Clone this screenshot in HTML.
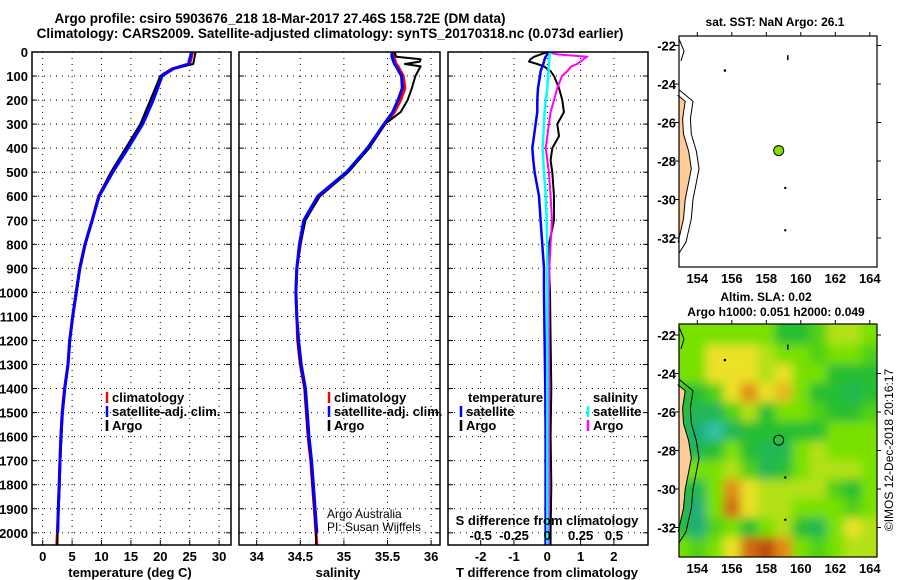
<!DOCTYPE html>
<html><head><meta charset="utf-8"><style>
html,body{margin:0;padding:0;background:#fff;width:900px;height:580px;overflow:hidden}
svg{display:block;font-family:"Liberation Sans",Arial,sans-serif}
.b{font-weight:bold}
</style></head><body>
<svg id="c" width="900" height="580" viewBox="0 0 900 580" xmlns="http://www.w3.org/2000/svg">
<defs>
<filter id="blur" x="-10%" y="-10%" width="120%" height="120%"><feGaussianBlur stdDeviation="5"/></filter>
<clipPath id="m2clip"><rect x="679" y="324" width="198" height="233"/></clipPath>
</defs>
<text x="280" y="23" text-anchor="middle" class="b" font-size="13.5">Argo profile: csiro 5903676_218 18-Mar-2017 27.46S 158.72E (DM data)</text>
<text x="330" y="38" text-anchor="middle" class="b" font-size="13.5">Climatology: CARS2009. Satellite-adjusted climatology: synTS_20170318.nc (0.073d earlier)</text>
<g id="root"></g>
</svg>
<script>
// ---------- data ----------
const depthTicks=[0,100,200,300,400,500,600,700,800,900,1000,1100,1200,1300,1400,1500,1600,1700,1800,1900,2000];
const tempTicks=[0,5,10,15,20,25,30];
const salTicks=[34,34.5,35,35.5,36];
const salTickLabels=["34","34.5","35","35.5","36"];
const tdiffTicks=[-2,-1,0,1,2];
const sdiffTicks=[-0.5,-0.25,0,0.25,0.5];
const sdiffTickLabels=["-0.5","-0.25","0","0.25","0.5"];

const tDepth=[0,50,70,90,100,200,300,400,500,600,700,800,900,1000,1100,1200,1300,1400,1500,1600,1700,1800,1900,2000,2050];
const tempClim=[25.5,25,22,20.7,20.2,18.5,16.8,14.3,11.7,9.5,8.4,7.2,6.3,5.7,5.1,4.6,4.3,3.7,3.3,3.1,2.95,2.8,2.65,2.5,2.4];
const tempSat=[25.3,24.8,22.2,20.9,20.3,18.8,17.0,14.5,11.9,9.6,8.4,7.2,6.3,5.7,5.1,4.6,4.3,3.75,3.35,3.1,2.95,2.8,2.65,2.55,2.55];
const tempArgo=[26,25.6,22.3,20.6,20.0,18.3,16.6,14.1,11.6,9.5,8.5,7.3,6.4,5.8,5.15,4.65,4.3,3.8,3.4,3.2,3.0,2.9,2.7,2.5,2.5];

const sDepth=[0,20,30,40,50,60,80,100,150,200,250,300,400,500,600,700,800,900,1000,1100,1200,1300,1400,1500,1600,1700,1800,1900,2000,2050];
const salClim=[35.56,35.57,35.58,35.59,35.6,35.62,35.65,35.68,35.7,35.65,35.58,35.47,35.28,35.04,34.72,34.55,34.5,34.46,34.45,34.46,34.47,34.5,34.55,34.57,34.59,34.62,34.64,34.66,34.68,34.69];
const salSat=[35.55,35.55,35.56,35.57,35.58,35.6,35.63,35.66,35.67,35.62,35.56,35.46,35.27,35.03,34.7,34.54,34.49,34.46,34.45,34.46,34.48,34.51,34.56,34.58,34.6,34.63,34.65,34.67,34.69,34.69];
const salArgo=[35.58,35.6,35.88,35.87,35.7,35.88,35.85,35.82,35.78,35.73,35.65,35.47,35.29,35.05,34.72,34.56,34.5,34.46,34.45,34.46,34.47,34.5,34.55,34.57,34.59,34.62,34.64,34.66,34.68,34.68];

const dDepth=[0,10,20,30,40,50,60,80,100,150,200,250,300,350,400,450,500,600,700,800,900,1000,1200,1400,1600,1800,2000,2050];
const tDiffArgo=[0,-0.2,-0.4,-0.5,-0.55,-0.3,-0.1,0.1,0.2,0.35,0.45,0.5,0.3,0.35,0.15,0.1,0.15,0.2,0.2,0.05,0.05,0.08,0.1,0.12,0.1,0.12,0.1,0.1];
const tDiffSat=[0,0,-0.05,-0.08,-0.1,-0.12,-0.15,-0.2,-0.22,-0.28,-0.3,-0.3,-0.35,-0.4,-0.45,-0.42,-0.38,-0.25,-0.2,-0.15,-0.1,-0.1,-0.08,-0.06,-0.05,-0.05,-0.05,-0.05];
const sDiffArgo=[0,0.075,0.3,0.27,0.25,0.225,0.18,0.15,0.11,0.075,0.05,0.025,0.012,0.0,-0.012,0.0,0.012,0.025,0.035,0.025,0.015,0.012,0.012,0.012,0.012,0.012,0.012,0.012];
const sDiffSat=[0.025,0.02,0.015,0.015,0.012,0.012,0.01,0.01,0.005,0,-0.012,-0.02,-0.025,-0.03,-0.035,-0.03,-0.025,-0.012,-0.005,0,0,0,0,0,0,0,0,0];

const lonTicks=[154,156,158,160,162,164];
const latTicks=[-22,-24,-26,-28,-30,-32];
const argoLon=158.72, argoLat=-27.46;
const slaGrid=[
[3,3,3,3,3,3,2,2,2.5,3.5,3.5,3],
[3,3,4,4,4,3.5,3,3,2.5,3,3,2.5],
[3,3,4,4,4,3.5,4,3,3,2,2,2],
[2,2,2.5,4,5,4,4.5,3,2,2,1.5,2],
[2,1.5,1.5,2.5,3.5,2,3,3,2.5,2,2,2.5],
[2,1,0.5,1.5,2,2,2,2,2,3,3,3],
[2,1.5,2,3,2,1.5,1.5,3,3.5,3,3,3],
[3,3,3,3.5,2.5,1.5,2,3,3.5,3.5,3.5,3],
[2,1.5,3,5,4,3.5,3.5,3.5,3.5,2.5,2,3],
[2,1,3,5.5,4,3.5,3.5,3,3,3,2.5,3],
[2,1,2.5,3,2,3,3.5,2,1.5,3,4,3.5],
[3,2.5,3,4,5.5,6,5,3,2.5,3,3.5,3.5]];
const coastLon=[152.9,153.3,153.15,153.2,153.5,153.65,153.5,153.3,153.2,153.0,152.9];
const coastLat=[-24.6,-24.9,-25.8,-26.6,-27.5,-28.4,-29.1,-30.0,-31.0,-31.8,-32.2];

// ---------- helpers ----------
const NS="http://www.w3.org/2000/svg";
const root=document.getElementById('root');
function el(tag,attrs,parent){const e=document.createElementNS(NS,tag);for(const k in attrs)e.setAttribute(k,attrs[k]);(parent||root).appendChild(e);return e;}
function txt(x,y,s,size,anchor,bold,parent){const t=el('text',{x:x,y:y,'font-size':size,'text-anchor':anchor||'middle'},parent);if(bold)t.setAttribute('font-weight','bold');t.textContent=s;return t;}

const PT=52,PB=545;
const yD=d=>52+d*0.2404;
const xT=v=>42.7+v*5.88;
const xS=v=>256.7+(v-34)*87.2;
const xTd=v=>547.3+v*33.3;
const xSd=v=>547.3+v*133.2;

function panel(name){
  const g=el('g',{});
  
  
  return g;
}
function frame(g,x0,x1){
  const r=el('rect',{x:x0,y:PT,width:x1-x0,height:PB-PT,fill:'none',stroke:'#000','stroke-width':1.5},g);
  
  
}
function hgrid(g,x0,x1,labels){
  depthTicks.forEach(d=>{
    const y=yD(d);
    el('line',{x1:x0,x2:x1,y1:y,y2:y,stroke:'#000','stroke-width':1,'stroke-dasharray':'1,5'},g);
    el('line',{x1:x0,x2:x0+5,y1:y,y2:y,stroke:'#000'},g);
    el('line',{x1:x1-5,x2:x1,y1:y,y2:y,stroke:'#000'},g);
    if(labels){const t=txt(28,y+5,String(d),13,'end',true,g);
      
      }
  });
}
function vgrid(g,ticks,fx,labels){
  ticks.forEach((v,i)=>{
    const x=fx(v);
    el('line',{x1:x,x2:x,y1:PT,y2:PB,stroke:'#000','stroke-width':1,'stroke-dasharray':'1,5'},g);
    el('line',{x1:x,x2:x,y1:PB-5,y2:PB,stroke:'#000'},g);
    const t=txt(x,561,labels?labels[i]:String(v),13,'middle',true,g);
    
    
  });
}
function line(g,xs,ys,fx,fy,color,w,name){
  const pts=xs.map((v,i)=>fx(v).toFixed(1)+','+fy(ys[i]).toFixed(1)).join(' ');
  const p=el('polyline',{points:pts,fill:'none',stroke:color,'stroke-width':w,'stroke-linejoin':'round'},g);
  
  
}
function legend(g,x,y,color,label){
  el('line',{x1:x,x2:x,y1:y-10,y2:y+1,stroke:color,'stroke-width':2.5},g);
  const t=txt(x+5,y,label,13,'start',true,g);
  
  
}

// ---------- panel 1 ----------
const p1=panel('temperature-panel');
hgrid(p1,32,231,true);
vgrid(p1,tempTicks,xT);
line(p1,tempClim,tDepth,xT,yD,'#ff0000',3,'temperature-climatology-line');
line(p1,tempArgo,tDepth,xT,yD,'#000',2,'temperature-argo-line');
line(p1,tempSat.slice(0,24),tDepth.slice(0,24),xT,yD,'#0000ff',3,'temperature-satellite-line');
frame(p1,32,231);
legend(p1,107,402,'#ff0000','climatology');
legend(p1,107,416,'#0000ff','satellite-adj. clim.');
legend(p1,107,430,'#000','Argo');
{const t=txt(130,577,'temperature (deg C)',13,'middle',true,p1);}

// ---------- panel 2 ----------
const p2=panel('salinity-panel');
hgrid(p2,239,440,false);
vgrid(p2,salTicks,xS,salTickLabels);
line(p2,salClim,sDepth,xS,yD,'#ff0000',3,'salinity-climatology-line');
line(p2,salArgo,sDepth,xS,yD,'#000',2,'salinity-argo-line');
line(p2,salSat.slice(0,29),sDepth.slice(0,29),xS,yD,'#0000ff',3,'salinity-satellite-line');
frame(p2,239,440);
legend(p2,329,402,'#ff0000','climatology');
legend(p2,329,416,'#0000ff','satellite-adj. clim.');
legend(p2,329,430,'#000','Argo');
{const t=txt(327,518,'Argo Australia',12,'start',false,p2);
 const t2=txt(327,531,'PI: Susan Wijffels',12,'start',false,p2);
 const t3=txt(338,577,'salinity',13,'middle',true,p2);}

// ---------- panel 3 ----------
const p3=panel('difference-panel');
hgrid(p3,448,648,false);
vgrid(p3,tdiffTicks,xTd);
line(p3,tDiffArgo,dDepth,xTd,yD,'#000',2,'t-diff-argo-line');
line(p3,sDiffArgo,dDepth,xSd,yD,'#ff00ff',2,'s-diff-argo-line');
line(p3,tDiffSat,dDepth,xTd,yD,'#0000ff',2.5,'t-diff-satellite-line');
line(p3,sDiffSat,dDepth,xSd,yD,'#00ffff',2.5,'s-diff-satellite-line');
frame(p3,448,648);
{const t=txt(468,402,'temperature',13,'start',true,p3);
 const t2=txt(593,402,'salinity',13,'start',true,p3);}
legend(p3,461,416,'#0000ff','satellite');
legend(p3,461,430,'#000','Argo');
legend(p3,588,416,'#00ffff','satellite');
legend(p3,588,430,'#ff00ff','Argo');
{const t=txt(547,525,'S difference from climatology',13,'middle',true,p3);}
sdiffTicks.forEach((v,i)=>{const t=txt(xSd(v),540,sdiffTickLabels[i],13,'middle',true,p3);
  
  });
{const t=txt(547,577,'T difference from climatology',13,'middle',true,p3);}

// ---------- maps ----------
const mX0=679,mX1=877;
const xLon=l=>697.3+(l-154)*17.25;
function drawMap(name,yTop,yBot,y22,heat){
  const g=el('g',{});
  
  
  const yLat=l=>y22+(-22-l)*19.25;
  el('rect',{x:mX0,y:yTop,width:mX1-mX0,height:yBot-yTop,fill:heat?'rgb(110,215,10)':'#fff'},g);
  if(heat){
    const hg=el('g',{'clip-path':'url(#m2clip)'},g);
    const hb=el('g',{filter:'url(#blur)'},hg);
    const stops=[[0,[70,210,210]],[1,[30,175,120]],[2,[40,190,50]],[3,[120,225,0]],[4,[235,225,40]],[5,[225,140,25]],[6,[190,75,10]]];
    function cmap(v){for(let i=0;i<stops.length-1;i++){if(v<=stops[i+1][0]){const f=(v-stops[i][0]);const a=stops[i][1],b=stops[i+1][1];return 'rgb('+a.map((c,k)=>Math.round(c+(b[k]-c)*f)).join(',')+')';}}return 'rgb(190,75,10)';}
    slaGrid.forEach((row,j)=>row.forEach((v,i)=>{
      const lon=153+i, lat=-22-j;
      const x=xLon(lon-0.5)-(i===0?12:0),y=yLat(lat+0.5)-(j===0?12:0);
      const r=el('rect',{x:x,y:y,width:17.5+(i===0?12:0)+(i===11?12:0),height:19.5+(j===0?12:0)+(j===11?12:0),fill:cmap(v)},hb);
      
      
    }));
  }
  const pts=coastLon.map((l,i)=>xLon(l).toFixed(1)+','+yLat(coastLat[i]).toFixed(1));
  pts.push(mX0+','+yLat(-32.2).toFixed(1));pts.push(mX0+','+yLat(-24.6).toFixed(1));
  const land=el('polygon',{points:pts.join(' '),fill:'#ffcc99',stroke:'#000','stroke-width':1},g);
  
  
  const cpts=coastLon.map((l,i)=>xLon(l+0.45).toFixed(1)+','+yLat(coastLat[i]).toFixed(1));
  cpts.unshift(mX0+','+yLat(-24.3).toFixed(1));cpts.push(mX0+','+yLat(-32.8).toFixed(1));
  el('polyline',{points:cpts.join(' '),fill:'none',stroke:'#000','stroke-width':1},g);
  el('polyline',{points:[mX0+','+(yTop+3),(mX0+5)+','+(yTop+15),(mX0+2)+','+(yTop+25)].join(' '),fill:'none',stroke:'#000'},g);
  el('circle',{cx:xLon(155.6),cy:yLat(-23.3),r:1.3,fill:'#000'},g);
  el('rect',{x:xLon(159.2),y:yLat(-22.5),width:1.5,height:5,fill:'#000'},g);
  el('circle',{cx:xLon(159.1),cy:yLat(-29.4),r:1.2,fill:'#000'},g);
  el('circle',{cx:xLon(159.1),cy:yLat(-31.6),r:1.2,fill:'#000'},g);
  const c=el('circle',{cx:xLon(argoLon),cy:yLat(argoLat),r:5,fill:heat?'none':'#88dd00',stroke:'#000','stroke-width':1},g);
  
  
  el('rect',{x:mX0,y:yTop,width:mX1-mX0,height:yBot-yTop,fill:'none',stroke:'#000','stroke-width':1.2},g);
  lonTicks.forEach(l=>{const x=xLon(l);
    el('line',{x1:x,x2:x,y1:yTop,y2:yTop-4,stroke:'#000'},g);
    const t=txt(x,yBot+16,String(l),13,'middle',true,g);
    
    });
  latTicks.forEach(l=>{const y=yLat(l);
    el('line',{x1:mX1,x2:mX1+4,y1:y,y2:y,stroke:'#000'},g);
    el('line',{x1:mX0-4,x2:mX0,y1:y,y2:y,stroke:'#000'},g);
    const t=txt(676,y+5,String(l),13,'end',true,g);
    
    });
  return g;
}
drawMap('sst-map',36,267,45.5,false);
{const t=txt(775,26,'sat. SST: NaN Argo: 26.1',12,'middle',true);}
drawMap('sla-map',324,557,335,true);
{const t=txt(766,301,'Altim. SLA: 0.02',12,'middle',true);
 const t2=txt(776,316,'Argo h1000: 0.051 h2000: 0.049',12,'middle',true);
 const t3=txt(0,0,'©IMOS 12-Dec-2018 20:16:17',12,'middle',false);t3.setAttribute('transform','translate(893,450) rotate(-90)');}
</script>
</body></html>
